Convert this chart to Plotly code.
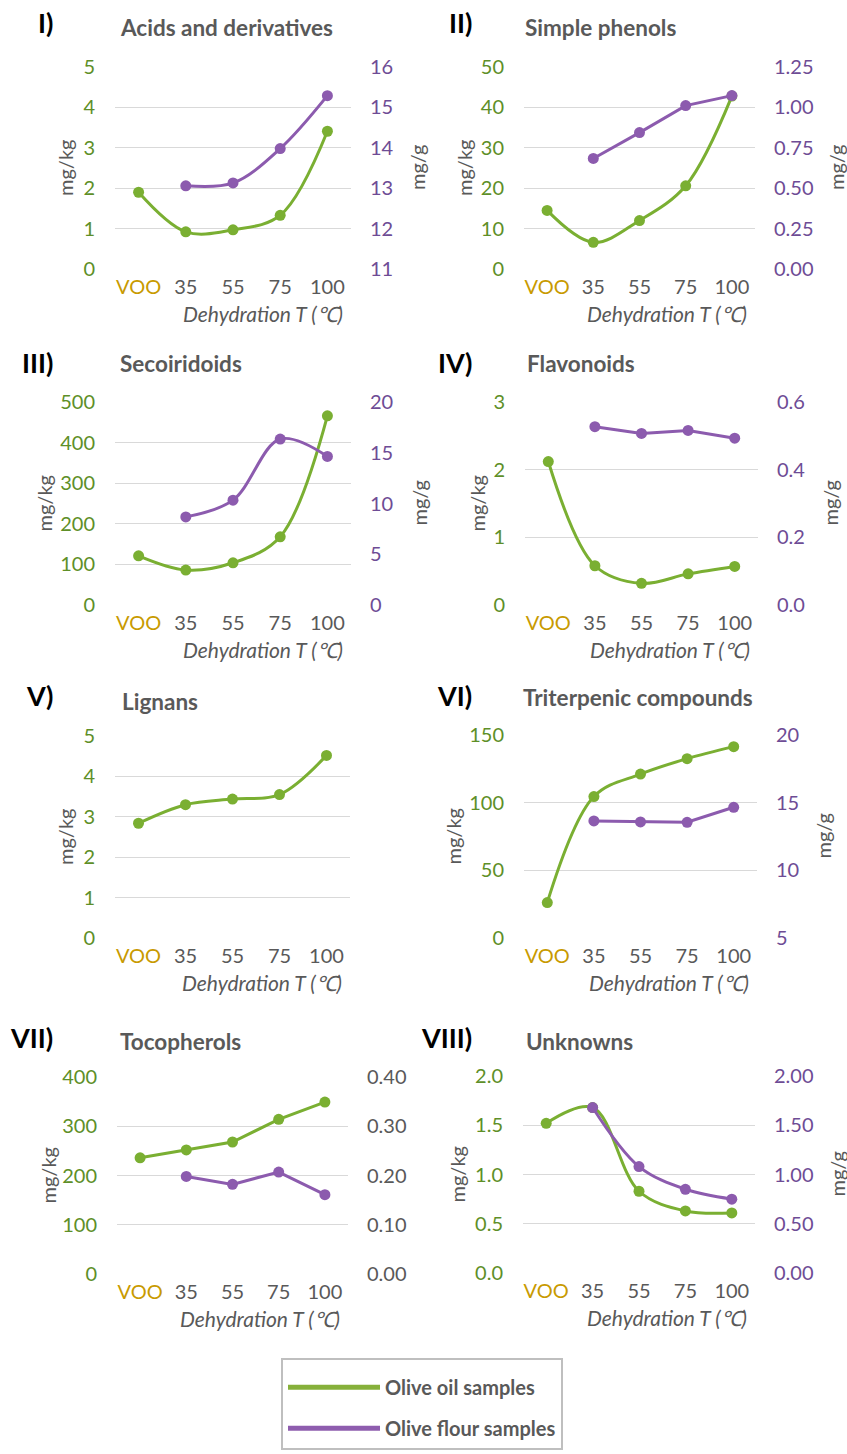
import plotly.graph_objects as go

W, H = 847, 1454

# ---------------- data ----------------
categories = ["VOO", "35", "55", "75", "100"]
flour_categories = ["35", "55", "75", "100"]

panel_numbers = ["I)", "II)", "III)", "IV)", "V)", "VI)", "VII)", "VIII)"]
panel_titles = ["Acids and derivatives", "Simple phenols", "Secoiridoids", "Flavonoids",
                "Lignans", "Triterpenic compounds", "Tocopherols", "Unknowns"]

# olive oil samples (mg/kg), VOO,35,55,75,100
oil_acids = [1.90, 0.92, 0.97, 1.33, 3.41]
oil_phenols = [14.5, 6.6, 12.0, 20.6, 42.8]
oil_secoiridoids = [121, 86, 104, 168, 466]
oil_flavonoids = [2.12, 0.58, 0.32, 0.46, 0.57]
oil_lignans = [2.84, 3.30, 3.44, 3.55, 4.52]
oil_triterpenic = [26.2, 104.5, 121.1, 132.5, 141.4]
oil_tocopherols = [236, 252, 268, 314, 349]
oil_unknowns = [1.52, 1.68, 0.83, 0.63, 0.61]

# olive flour samples (mg/g), 35,55,75,100
flour_acids = [13.06, 13.13, 13.98, 15.29]
flour_phenols = [0.684, 0.844, 1.011, 1.073]
flour_secoiridoids = [8.68, 10.33, 16.35, 14.64]
flour_flavonoids = [0.527, 0.507, 0.516, 0.493]
flour_lignans = None
flour_triterpenic = [13.65, 13.58, 13.55, 14.66]
flour_tocopherols = [0.198, 0.182, 0.207, 0.161]
flour_unknowns = [1.68, 1.08, 0.85, 0.75]

oil_series = [oil_acids, oil_phenols, oil_secoiridoids, oil_flavonoids,
              oil_lignans, oil_triterpenic, oil_tocopherols, oil_unknowns]
flour_series = [flour_acids, flour_phenols, flour_secoiridoids, flour_flavonoids,
                flour_lignans, flour_triterpenic, flour_tocopherols, flour_unknowns]

# axis ranges / ticks
left_ranges = [(0, 5), (0, 50), (0, 500), (0, 3), (0, 5), (0, 150), (0, 400), (0, 2)]
left_dticks = [1, 10, 100, 1, 1, 50, 100, 0.5]
left_formats = ["", "", "", "", "", "", "", ".1f"]
right_ranges = [(11, 16), (0, 1.25), (0, 20), (0, 0.6), None, (5, 20), (0, 0.4), (0, 2)]
right_dticks = [1, 0.25, 5, 0.2, None, 5, 0.1, 0.5]
right_formats = ["", ".2f", "", ".1f", None, "", ".2f", ".2f"]

legend_names = ["Olive oil samples", "Olive flour samples"]
x_title = "Dehydration T (\u2103)"
left_unit = "mg/kg"
right_unit = "mg/g"

# ---------------- style / layout ----------------
GREEN = "#7AAF32"
GREEN_TXT = "#5E8F28"
PURPLE = "#8C5BAE"
PURPLE_TXT = "#6E4C95"
GOLD = "#C89A00"
GRAY = "#595959"
GRID = "#D9D9D9"
FONT = "Lato"
TICK_SIZE = 20

# plot areas in pixels: x0, x1, ytop, ybottom
boxes = [
    (115, 351, 67, 269), (524, 755, 67, 269),
    (115, 351, 402, 605), (525, 758, 402, 605),
    (115, 350, 736, 938), (524, 757, 735, 938),
    (117, 348, 1077, 1274), (523, 755, 1076, 1273),
]
oil_shapes = ["spline", "spline", "spline", "spline", "spline", "spline", "linear", "spline"]
flour_shapes = ["spline", "linear", "spline", "linear", None, "linear", "linear", "spline"]
title_pos = [(118, 27), (523, 27), (118, 363), (525, 363), (120, 701), (521, 698), (118, 1041), (524, 1041)]
num_pos = [(55, 22), (474, 22), (55, 362), (474, 362), (55, 695), (474, 695), (55, 1037), (474, 1037)]
lunit_x = [65, 464, 43, 476, 65, 452, 47, 456]
runit_x = [417, 836, 418, 829, None, 822, None, 836]
right_tick_gray = [False, False, False, False, False, False, True, False]


def px(x):
    return x / W


def py(y):
    return 1 - y / H


ticktext = [f'<span style="color:{GOLD}">{c}</span>' if c == "VOO" else c for c in categories]

fig = go.Figure()
layout = dict(
    template="none",
    width=W, height=H,
    margin=dict(l=0, r=0, t=0, b=0, pad=0, autoexpand=False),
    paper_bgcolor="white", plot_bgcolor="white",
    font=dict(family=FONT, color=GRAY, size=18),
    showlegend=True,
    hovermode=False,
)
annotations = []

for i in range(8):
    k = i + 1
    x0, x1, yt, yb = boxes[i]
    xa = "xaxis" if k == 1 else f"xaxis{k}"
    ya = "yaxis" if k == 1 else f"yaxis{k}"
    yr_id = k + 8
    yra = f"yaxis{yr_id}"
    xref = "x" if k == 1 else f"x{k}"
    yref = "y" if k == 1 else f"y{k}"
    yrref = f"y{yr_id}"

    layout[xa] = dict(
        domain=[px(x0), px(x1)], anchor=yref, type="category",
        categoryorder="array", categoryarray=categories,
        range=[-0.5, 4.5], tickvals=categories, ticktext=ticktext,
        showgrid=False, zeroline=False, showline=False, ticks="",
        tickfont=dict(family=FONT, size=TICK_SIZE, color=GRAY), ticklabelstandoff=4,
        automargin=False, fixedrange=True,
    )
    lo, hi = left_ranges[i]
    layout[ya] = dict(
        domain=[py(yb), py(yt)], anchor=xref, range=[lo, hi],
        tick0=lo, dtick=left_dticks[i], tickformat=left_formats[i],
        showgrid=True, gridcolor=GRID, gridwidth=1.3, zeroline=False,
        showline=False, ticks="", ticklabelstandoff=19, automargin=False,
        tickfont=dict(family=FONT, size=TICK_SIZE, color=GREEN_TXT),
    )
    if right_ranges[i] is not None:
        rlo, rhi = right_ranges[i]
        layout[yra] = dict(
            overlaying=yref, side="right", anchor=xref, range=[rlo, rhi],
            tick0=rlo, dtick=right_dticks[i], tickformat=right_formats[i],
            showgrid=False, zeroline=False, showline=False, ticks="",
            ticklabelstandoff=18, automargin=False,
            tickfont=dict(family=FONT, size=TICK_SIZE,
                          color=GRAY if right_tick_gray[i] else PURPLE_TXT),
        )

    fig.add_trace(go.Scatter(
        x=categories, y=oil_series[i], xaxis=xref, yaxis=yref,
        mode="lines+markers", showlegend=False, legendgroup="oil",
        line=dict(color=GREEN, width=3, shape=oil_shapes[i], smoothing=1.0),
        marker=dict(color=GREEN, size=11),
    ))
    if flour_series[i] is not None:
        fig.add_trace(go.Scatter(
            x=flour_categories, y=flour_series[i], xaxis=xref, yaxis=yrref,
            mode="lines+markers", showlegend=False, legendgroup="flour",
            line=dict(color=PURPLE, width=3, shape=flour_shapes[i], smoothing=1.0),
            marker=dict(color=PURPLE, size=11),
        ))

    # panel number
    nx, ny = num_pos[i]
    annotations.append(dict(text=f"<b>{panel_numbers[i]}</b>", x=px(nx), y=py(ny),
                            xref="paper", yref="paper", xanchor="right", yanchor="middle",
                            showarrow=False, font=dict(family=FONT, size=27, color="black")))
    # title
    tx, ty = title_pos[i]
    annotations.append(dict(text=f"<b>{panel_titles[i]}</b>", x=px(tx), y=py(ty),
                            xref="paper", yref="paper", xanchor="left", yanchor="middle",
                            showarrow=False, font=dict(family=FONT, size=22.5, color=GRAY)))
    # x title
    annotations.append(dict(text=f"<i>{x_title}</i>", x=px(x1 - 6), y=py(yb + 44),
                            xref="paper", yref="paper", xanchor="right", yanchor="middle",
                            showarrow=False, font=dict(family=FONT, size=21, color=GRAY)))
    # units
    ymid = (yt + yb) / 2
    annotations.append(dict(text=left_unit, x=px(lunit_x[i]), y=py(ymid), textangle=-90,
                            xref="paper", yref="paper", xanchor="center", yanchor="middle",
                            showarrow=False, font=dict(family=FONT, size=20, color=GRAY)))
    if runit_x[i] is not None:
        annotations.append(dict(text=right_unit, x=px(runit_x[i]), y=py(ymid), textangle=-90,
                                xref="paper", yref="paper", xanchor="center", yanchor="middle",
                                showarrow=False, font=dict(family=FONT, size=20, color=GRAY)))

# legend-only entries
fig.add_trace(go.Scatter(x=[None], y=[None], mode="lines", name=legend_names[0],
                         legendgroup="oil_leg", line=dict(color="#86B03A", width=5)))
fig.add_trace(go.Scatter(x=[None], y=[None], mode="lines", name=legend_names[1],
                         legendgroup="flour_leg", line=dict(color="#8E5DAE", width=5)))

layout["legend"] = dict(
    x=px(281), y=py(1358), xanchor="left", yanchor="top",
    bordercolor="#BFBFBF", borderwidth=2, bgcolor="white",
    font=dict(family=FONT, size=20, color=GRAY, weight="bold"),
    title=dict(text=" ", font=dict(size=6)),
    tracegroupgap=12, itemwidth=92,
)
layout["annotations"] = annotations
fig.update_layout(**layout)
fig.write_html("out.html", config={"displayModeBar": False, "staticPlot": True},
               post_script="document.body.style.margin='0';document.body.style.padding='0';")
